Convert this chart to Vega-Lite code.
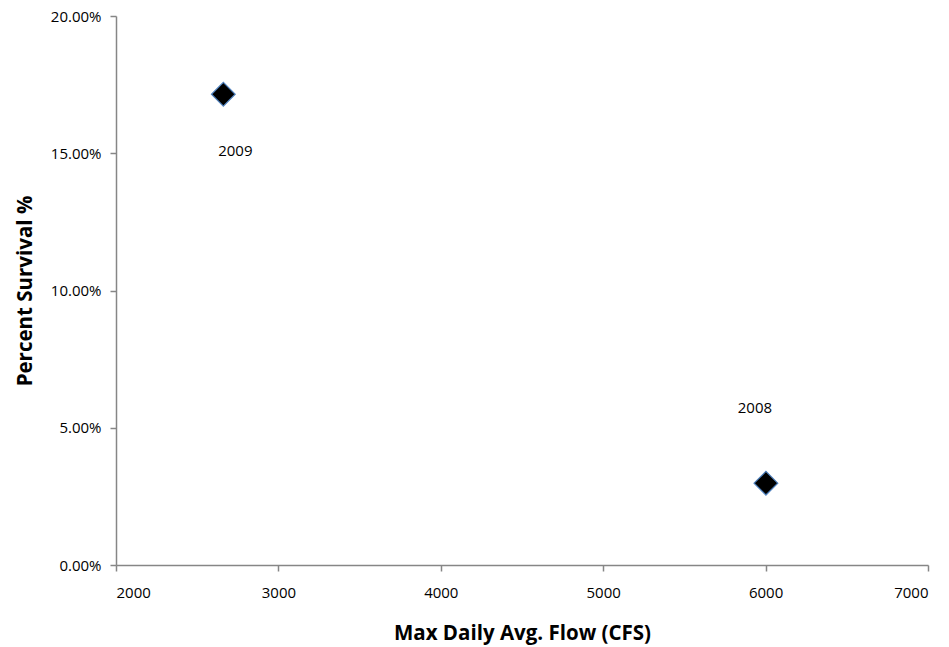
{
  "$schema": "https://vega.github.io/schema/vega-lite/v6.json",
  "width": 812,
  "height": 549,
  "autosize": "none",
  "padding": {"left": 116, "top": 16, "right": 21, "bottom": 82},
  "background": "white",
  "config": {
    "view": {"stroke": null},
    "font": "Open Sans",
    "axis": {
      "domainColor": "#868686",
      "tickColor": "#868686",
      "domainWidth": 1.5,
      "tickWidth": 1.5,
      "tickSize": 6,
      "grid": false,
      "labelFont": "Open Sans",
      "labelFontSize": 15,
      "labelColor": "#000000",
      "titleFont": "Open Sans",
      "titleFontSize": 20.5,
      "titleFontWeight": "bold",
      "titleColor": "#000000"
    }
  },
  "data": {
    "values": [
      {"year": "2009", "flow": 2661, "survival": 0.1715},
      {"year": "2008", "flow": 6002, "survival": 0.0298}
    ]
  },
  "encoding": {
    "x": {
      "field": "flow",
      "type": "quantitative",
      "scale": {"domain": [2000, 7000], "nice": false, "zero": false},
      "axis": {"title": "Max Daily Avg. Flow (CFS)", "values": [2000, 3000, 4000, 5000, 6000, 7000], "format": "d", "labelPadding": 14, "titlePadding": 23}
    },
    "y": {
      "field": "survival",
      "type": "quantitative",
      "scale": {"domain": [0, 0.2], "nice": false},
      "axis": {"title": "Percent Survival %", "values": [0, 0.05, 0.1, 0.15, 0.2], "format": ".2%", "labelPadding": 9, "titlePadding": 15}
    }
  },
  "layer": [
    {
      "mark": {"type": "point", "shape": "diamond", "filled": true, "size": 560, "fill": "#000000", "stroke": "#4f81bd", "strokeWidth": 1.2, "opacity": 1}
    },
    {
      "transform": [{"filter": "datum.year == '2009'"}],
      "mark": {"type": "text", "fontSize": 15, "font": "Open Sans", "color": "#000000", "dx": 12, "dy": 57},
      "encoding": {"text": {"field": "year"}}
    },
    {
      "transform": [{"filter": "datum.year == '2008'"}],
      "mark": {"type": "text", "fontSize": 15, "font": "Open Sans", "color": "#000000", "dx": -11, "dy": -75},
      "encoding": {"text": {"field": "year"}}
    }
  ]
}
